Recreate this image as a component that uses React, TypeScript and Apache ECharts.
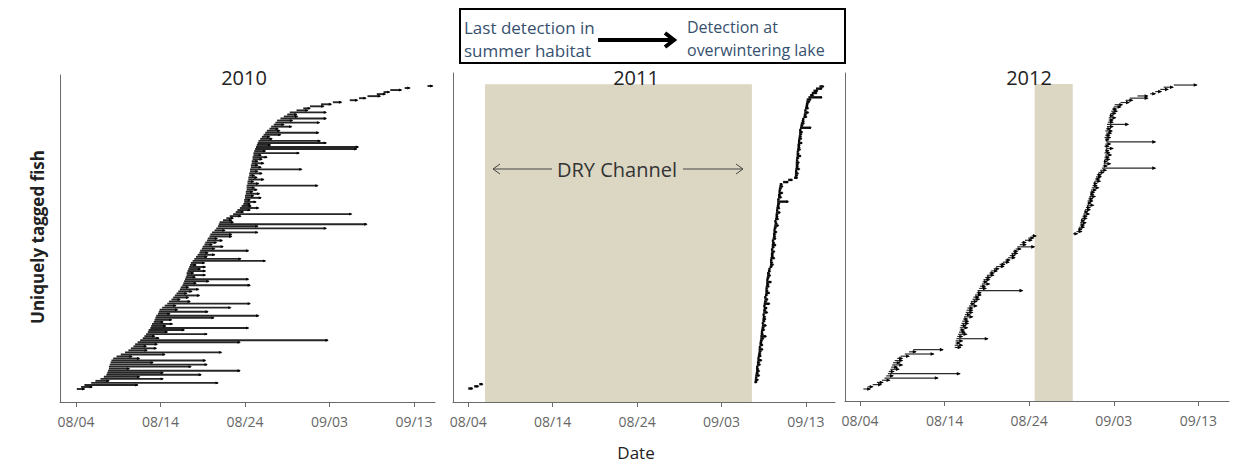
import { useEffect, useRef } from "react";
import * as echarts from "echarts";

// x values are days after 08/04
const tickDays = [0, 10, 20, 30, 40];
const tickLabels = ["08/04", "08/14", "08/24", "09/03", "09/13"];
const panelYears = ["2010", "2011", "2012"];

// 2010: last detection in summer habitat (days after 08/04), one per fish, sorted
const start2010 = [
  0.1, 0.6, 1.0, 1.8, 2.3, 2.9, 3.3,
  3.6, 3.7, 3.8, 3.9, 3.9, 4.0, 4.1, 4.2, 4.4, 4.8, 5.3, 5.8, 6.2, 6.5,
  6.8, 7.0, 7.3, 7.6, 7.9, 8.1, 8.3, 8.5, 8.6, 8.8, 8.9, 9.0, 9.2, 9.3, 9.4, 9.5, 9.7, 9.8,
  9.9, 10.2, 10.5, 10.8, 11.0, 11.3, 11.5, 11.7, 11.9, 12.1, 12.3, 12.4, 12.6,
  12.7, 12.8, 12.9, 13.0, 13.1, 13.1, 13.2, 13.3, 13.4, 13.5, 13.6, 13.8, 14.0, 14.2, 14.4, 14.6,
  14.7, 14.9, 15.0, 15.2, 15.3, 15.5, 15.6, 15.8, 15.9, 16.1, 16.4, 16.6, 16.8, 16.9,
  17.0, 17.4, 17.8, 18.2, 18.6, 18.9, 19.1, 19.4, 19.6, 19.8,
  19.9, 19.9, 20.0, 20.0, 20.1, 20.1, 20.2, 20.2, 20.2, 20.3, 20.3, 20.4, 20.4, 20.5, 20.5, 20.6, 20.6, 20.7, 20.7, 20.8, 20.8, 20.9, 20.9, 21.0,
  21.0, 21.1, 21.2, 21.3, 21.4, 21.5, 21.6, 21.8, 22.0, 22.2, 22.4, 22.6, 22.9, 23.1, 23.4, 23.6,
  23.8, 24.2, 24.6, 25.0, 25.3, 26.1, 26.9, 27.7, 29.0, 30.4, 32.4, 33.5, 34.5, 35.6, 36.4, 37.2, 38.9, 41.6,
];
// 2010: days until detection at overwintering lake
const travel2010 = [
  0.9, 1.3, 6.3, 15.0, 1.6, 7.4, 4.2,
  11.2, 6.6, 15.6, 2.4, 9.7, 11.5, 5.0, 11.1, 3.1, 1.8, 5.2, 11.4, 2.2, 3.0,
  1.5, 2.6, 12.1, 22.2, 1.9, 1.2, 7.2, 2.3, 4.2, 11.6, 1.7, 2.4, 1.1, 2.0, 6.9, 12.1, 1.4, 5.8,
  2.1, 8.1, 1.3, 9.8, 2.5, 1.0, 1.8, 2.9, 1.2, 1.6, 2.2, 0.9, 8.0,
  1.5, 2.9, 7.5, 1.1, 2.2, 0.8, 2.1, 1.4, 1.9, 0.7, 1.6, 8.6, 5.5, 1.3, 2.0, 1.0,
  5.7, 1.5, 2.4, 0.9, 1.3, 1.8, 1.1, 2.6, 2.5, 5.4, 1.2, 13.0, 4.7, 17.5,
  1.6, 1.0, 0.8, 1.3, 14.0, 0.9, 1.5, 2.2, 1.1, 0.8,
  1.4, 0.7, 1.9, 1.0, 1.6, 0.8, 1.2, 0.9, 8.4, 1.3, 0.7, 1.8, 1.0, 0.6, 1.5, 0.9, 6.1, 1.2, 0.8, 1.4, 0.7, 1.1, 1.7, 0.9,
  5.4, 1.3, 12.0, 12.1, 1.6, 8.1, 7.3, 1.4, 0.9, 2.0, 6.3, 1.5, 1.0, 2.4, 1.2, 5.2,
  1.8, 5.4, 1.6, 1.1, 4.3, 1.3, 0.8, 1.6, 1.2, 1.0, 0.9, 0.8, 1.5, 1.0, 0.7, 1.3, 0.6, 0.6,
];

const start2011 = [
  0.0, 0.7, 1.3,
  33.9, 33.95, 34.0, 34.0, 34.05, 34.1, 34.1, 34.15, 34.2,
  34.2, 34.25, 34.3, 34.3, 34.35, 34.4, 34.4, 34.45, 34.5, 34.5, 34.55, 34.6,
  34.6, 34.65, 34.7, 34.7, 34.75, 34.8, 34.8, 34.85, 34.85, 34.9, 34.9, 34.95, 34.95, 35.0, 35.0, 35.0,
  35.05, 35.1, 35.1, 35.15, 35.2, 35.2, 35.25, 35.25, 35.3, 35.3, 35.35, 35.35, 35.4, 35.4,
  35.5, 35.6, 35.7,
  35.75, 35.75, 35.8, 35.8, 35.85, 35.85, 35.9, 35.9, 35.95, 35.95, 36.0, 36.0, 36.05, 36.1,
  36.1, 36.15, 36.2, 36.2, 36.25, 36.3, 36.3, 36.35, 36.4, 36.4, 36.45, 36.5,
  36.5, 36.55, 36.6, 36.6, 36.65, 36.7, 36.7, 36.75, 36.8, 36.8, 36.85, 36.9,
  37.3, 37.9, 38.6,
  38.7, 38.7, 38.75, 38.75, 38.8, 38.8, 38.8, 38.85, 38.85, 38.9, 38.9,
  38.95, 38.95, 39.0, 39.0, 39.05, 39.1, 39.1, 39.15, 39.2, 39.2, 39.25, 39.3,
  39.35, 39.4, 39.5, 39.6, 39.7,
  39.75, 39.8, 39.85, 39.9, 39.95, 40.0, 40.05, 40.1,
  40.3, 40.5, 40.7, 40.9, 41.2, 41.6,
];
const travel2011 = [
  0.5, 0.5, 0.4,
  0.3, 0.4, 0.2, 0.5, 0.3, 0.4, 0.3, 0.2, 0.4,
  0.3, 0.5, 0.2, 0.4, 0.3, 0.3, 0.5, 0.2, 0.4, 0.3, 0.3, 0.4,
  0.7, 0.3, 0.2, 0.4, 0.3, 0.5, 0.2, 0.3, 0.4, 0.3, 0.2, 0.5, 0.3, 0.4, 0.2, 0.7,
  0.3, 0.4, 0.2, 0.3, 0.5, 0.3, 0.2, 0.4, 0.3, 0.6, 0.2, 0.3, 0.4, 0.3,
  0.3, 0.2, 0.3,
  0.4, 0.3, 0.2, 0.5, 0.3, 0.3, 0.4, 0.2, 0.3, 0.5, 0.3, 0.2, 0.4, 0.3,
  0.3, 0.4, 0.2, 0.3, 0.5, 0.3, 0.2, 0.4, 0.3, 0.3, 0.5, 0.2,
  0.4, 0.3, 0.3, 1.3, 0.2, 0.4, 0.3, 0.5, 0.2, 0.3, 0.4, 0.3,
  0.6, 0.5, 0.4,
  0.3, 0.4, 0.2, 0.5, 0.3, 0.3, 0.4, 0.2, 0.3, 0.5, 0.3,
  0.2, 0.4, 0.3, 0.3, 0.5, 0.2, 0.4, 0.3, 0.3, 0.4, 0.2, 1.3,
  0.3, 0.4, 0.3, 0.2, 0.4,
  0.3, 0.5, 0.2, 0.4, 0.3, 0.3, 0.4, 0.5,
  1.6, 0.4, 0.6, 0.5, 0.7, 0.5,
];

const start2012 = [
  0.4, 0.9, 1.5, 2.0, 2.6, 2.9, 3.1, 3.3, 3.4, 3.6, 3.7, 3.8, 3.9, 4.1, 4.4, 4.8, 5.3, 5.8, 6.3,
  11.2, 11.2, 11.3, 11.3, 11.4,
  11.5, 11.6, 11.7, 11.8, 11.8, 11.9, 12.0,
  12.1, 12.2, 12.3, 12.4, 12.5, 12.6,
  12.7, 12.9, 13.0, 13.1, 13.3, 13.4,
  13.6, 13.8, 13.9, 14.1, 14.2,
  14.4, 14.5, 14.6, 14.8,
  15.0, 15.3, 15.5, 15.8,
  16.1, 16.5, 16.9,
  17.2, 17.5, 17.7, 17.9, 18.1,
  18.4, 18.6, 18.9, 19.1,
  19.5, 19.9, 20.3,
  25.2, 25.6,
  25.8, 25.9, 26.0, 26.0, 26.1, 26.2,
  26.3, 26.4, 26.5, 26.6, 26.7, 26.8,
  26.9, 26.9, 27.0, 27.1, 27.2, 27.2, 27.3, 27.4,
  27.5, 27.6, 27.7, 27.8, 27.9, 28.0,
  28.2, 28.4, 28.6,
  28.7, 28.8, 28.8, 28.9, 28.9, 29.0,
  28.9, 29.0, 29.1, 28.9, 29.0, 29.1, 29.0, 28.9, 29.0, 29.1, 29.0,
  29.1, 29.2, 29.2, 29.3, 29.4, 29.4, 29.5, 29.6,
  29.7, 29.8, 30.0, 30.1,
  30.8, 31.4, 31.9,
  32.8, 34.3, 34.9, 35.5, 35.9, 37.1,
];
const travel2012 = [
  0.8, 0.6, 1.0, 0.7, 0.9, 6.3, 0.8, 8.5, 0.6, 1.0, 0.7, 1.2, 0.8, 0.9, 0.6, 1.0, 3.4, 0.8, 3.5,
  0.7, 0.9, 0.5, 0.8, 3.7,
  0.6, 1.0, 0.7, 0.5, 0.9, 0.6, 0.8,
  0.7, 0.5, 1.0, 0.6, 0.8, 0.7,
  0.6, 0.9, 0.5, 0.7, 0.8, 0.6,
  0.7, 0.5, 5.3, 0.8, 0.6,
  0.9, 0.5, 0.7, 0.6,
  0.8, 0.5, 0.7, 0.6,
  0.9, 0.6, 0.7,
  0.5, 0.8, 0.6, 0.7, 0.5,
  0.6, 2.0, 0.7, 0.5,
  0.8, 0.6, 0.5,
  0.5, 0.6,
  0.4, 0.6, 0.5, 0.7, 0.4, 0.6,
  0.5, 0.7, 0.4, 0.6, 0.5, 0.8,
  0.4, 0.6, 0.5, 0.7, 0.4, 0.5, 0.6, 0.8,
  0.5, 0.4, 0.7, 0.5, 0.6, 0.5,
  0.6, 0.7, 6.3,
  0.5, 0.8, 0.4, 0.6, 0.5, 0.7,
  0.6, 0.4, 0.8, 0.5, 0.6, 5.8, 0.4, 0.7, 0.5, 0.6, 0.8,
  0.5, 0.7, 2.5, 0.6, 0.5, 0.8, 0.4, 0.6,
  0.7, 0.5, 0.8, 0.9,
  1.0, 0.8, 2.1,
  1.2, 0.6, 0.7, 0.9, 1.1, 2.7,
];

// dry channel periods (days after 08/04)
const dry2011 = [1.98, 33.6];
const dry2012 = [20.65, 25.15];

const FONT = "'Open Sans', 'Noto Sans', sans-serif";

function buildFish(starts: number[], travel: number[]) {
  const n = Math.min(starts.length, travel.length);
  const out: number[][] = [];
  for (let i = 0; i < n; i++) out.push([starts[i], i, starts[i] + travel[i]]);
  return out;
}

function fishRenderer(stroke: string, width: number, head: number) {
  return (params: any, api: any) => {
    const s = api.coord([api.value(0), api.value(1)]);
    const e = api.coord([api.value(2), api.value(1)]);
    return {
      type: "group",
      children: [
        {
          type: "line",
          shape: { x1: s[0], y1: s[1], x2: e[0], y2: e[1] },
          style: { stroke, lineWidth: width },
        },
        {
          type: "polygon",
          shape: {
            points: [
              [e[0] + 1, e[1]],
              [e[0] - head, e[1] - head * 0.6],
              [e[0] - head, e[1] + head * 0.6],
            ],
          },
          style: { fill: "#000" },
        },
      ],
    };
  };
}

function dryRenderer(params: any, api: any) {
  const a = api.coord([api.value(0), api.value(2)]);
  const b = api.coord([api.value(1), api.value(3)]);
  return {
    type: "rect",
    shape: { x: a[0], y: a[1], width: b[0] - a[0], height: b[1] - a[1] },
    style: { fill: "#DCD7C3" },
  };
}

const grids = [
  { left: 60, top: 75, width: 375, height: 327 },
  { left: 453, top: 73, width: 382, height: 329 },
  { left: 845, top: 73, width: 384, height: 328 },
];
const xRanges = [
  [-1.89, 42.49],
  [-1.81, 43.45],
  [-1.77, 43.62],
];
const yRanges = [
  [-6.39, 154.4],
  [-6.21, 145.2],
  [-5.49, 144.5],
];

export default function App() {
  const ref = useRef<HTMLDivElement>(null);
  useEffect(() => {
    if (!ref.current) return;
    const chart = echarts.init(ref.current, undefined, { renderer: "svg" });
    const axisColor = "#6b6b6b";
    const xAxes = grids.map((_, i) => ({
      type: "value",
      gridIndex: i,
      min: xRanges[i][0],
      max: xRanges[i][1],
      splitLine: { show: false },
      axisLine: { show: true, onZero: false, lineStyle: { color: axisColor, width: 1 } },
      axisTick: {
        show: true,
        length: 5,
        customValues: tickDays,
        lineStyle: { color: axisColor },
      },
      axisLabel: {
        customValues: tickDays,
        formatter: (v: number) => {
          const k = tickDays.indexOf(v);
          return k >= 0 ? tickLabels[k] : "";
        },
        color: "#666",
        fontSize: 14,
        fontFamily: FONT,
        margin: 12,
      },
    }));
    const yAxes = grids.map((_, i) => ({
      type: "value",
      gridIndex: i,
      min: yRanges[i][0],
      max: yRanges[i][1],
      splitLine: { show: false },
      axisLine: { show: true, onZero: false, lineStyle: { color: axisColor, width: 1 } },
      axisTick: { show: false },
      axisLabel: { show: false },
    }));

    const titleGraphics = panelYears.map((yr, i) => ({
      type: "text",
      x: [244, 636, 1029][i],
      y: 77,
      z: 100,
      style: {
        text: yr,
        fontSize: 20,
        fontFamily: FONT,
        fill: "#222",
        textAlign: "center",
        textVerticalAlign: "middle",
      },
    }));

    const legendColor = "#36506F";
    chart.setOption({
      animation: false,
      backgroundColor: "#fff",
      grid: grids,
      xAxis: xAxes,
      yAxis: yAxes,
      series: [
        {
          type: "custom",
          name: "dry2011",
          xAxisIndex: 1,
          yAxisIndex: 1,
          z: 1,
          renderItem: dryRenderer,
          data: [[dry2011[0], dry2011[1], 140.0, yRanges[1][0]]],
          silent: true,
        },
        {
          type: "custom",
          name: "dry2012",
          xAxisIndex: 2,
          yAxisIndex: 2,
          z: 1,
          renderItem: dryRenderer,
          data: [[dry2012[0], dry2012[1], 139.46, yRanges[2][0]]],
          silent: true,
        },
        {
          type: "custom",
          name: "2010",
          xAxisIndex: 0,
          yAxisIndex: 0,
          z: 3,
          renderItem: fishRenderer("#262626", 1.9, 2.4),
          data: buildFish(start2010, travel2010),
          silent: true,
        },
        {
          type: "custom",
          name: "2011",
          xAxisIndex: 1,
          yAxisIndex: 1,
          z: 3,
          renderItem: fishRenderer("#0d0d0d", 2.4, 2),
          data: buildFish(start2011, travel2011),
          silent: true,
        },
        {
          type: "custom",
          name: "2012",
          xAxisIndex: 2,
          yAxisIndex: 2,
          z: 3,
          renderItem: fishRenderer("#2a2a2a", 1.2, 3),
          data: buildFish(start2012, travel2012),
          silent: true,
        },
      ],
      graphic: [
        ...titleGraphics,
        {
          type: "rect",
          shape: { x: 460, y: 9, width: 385, height: 54 },
          style: { fill: "#fff", stroke: "#000", lineWidth: 2 },
          z: 100,
        },
        {
          type: "text",
          x: 464,
          y: 27,
          z: 101,
          style: { text: "Last detection in", fontSize: 17, fontFamily: FONT, fill: legendColor, textVerticalAlign: "middle" },
        },
        {
          type: "text",
          x: 464,
          y: 50,
          z: 101,
          style: { text: "summer habitat", fontSize: 17, fontFamily: FONT, fill: legendColor, textVerticalAlign: "middle" },
        },
        {
          type: "text",
          x: 687,
          y: 27,
          z: 101,
          style: { text: "Detection at", fontSize: 16, fontFamily: FONT, fill: legendColor, textVerticalAlign: "middle" },
        },
        {
          type: "text",
          x: 687,
          y: 50,
          z: 101,
          style: { text: "overwintering lake", fontSize: 16, fontFamily: FONT, fill: legendColor, textVerticalAlign: "middle" },
        },
        {
          type: "line",
          z: 101,
          shape: { x1: 598, y1: 40, x2: 672, y2: 40 },
          style: { stroke: "#000", lineWidth: 4 },
        },
        {
          type: "polyline",
          z: 101,
          shape: { points: [[665, 33], [674, 40], [665, 47]] },
          style: { stroke: "#000", lineWidth: 4, fill: "none" },
        },
        {
          type: "text",
          x: 617,
          y: 169,
          z: 100,
          style: { text: "DRY Channel", fontSize: 20, fontFamily: FONT, fill: "#333", textAlign: "center", textVerticalAlign: "middle" },
        },
        {
          type: "line",
          z: 100,
          shape: { x1: 493, y1: 169, x2: 552, y2: 169 },
          style: { stroke: "#444", lineWidth: 1 },
        },
        {
          type: "polyline",
          z: 100,
          shape: { points: [[500, 164], [493, 169], [500, 174]] },
          style: { stroke: "#444", lineWidth: 1, fill: "none" },
        },
        {
          type: "line",
          z: 100,
          shape: { x1: 683, y1: 169, x2: 743, y2: 169 },
          style: { stroke: "#444", lineWidth: 1 },
        },
        {
          type: "polyline",
          z: 100,
          shape: { points: [[736, 164], [743, 169], [736, 174]] },
          style: { stroke: "#444", lineWidth: 1, fill: "none" },
        },
        {
          type: "text",
          x: 37,
          y: 237,
          rotation: Math.PI / 2,
          z: 100,
          style: {
            text: "Uniquely tagged fish",
            fontSize: 17,
            fontWeight: "bold",
            fontFamily: FONT,
            fill: "#222",
            textAlign: "center",
            textVerticalAlign: "middle",
          },
        },
        {
          type: "text",
          x: 636,
          y: 452,
          z: 100,
          style: { text: "Date", fontSize: 17, fontFamily: FONT, fill: "#222", textAlign: "center", textVerticalAlign: "middle" },
        },
      ],
    });
    return () => chart.dispose();
  }, []);
  return (
    <div
      ref={ref}
      style={{ position: "fixed", left: 0, top: 0, width: 1257, height: 474, background: "#fff" }}
    />
  );
}
